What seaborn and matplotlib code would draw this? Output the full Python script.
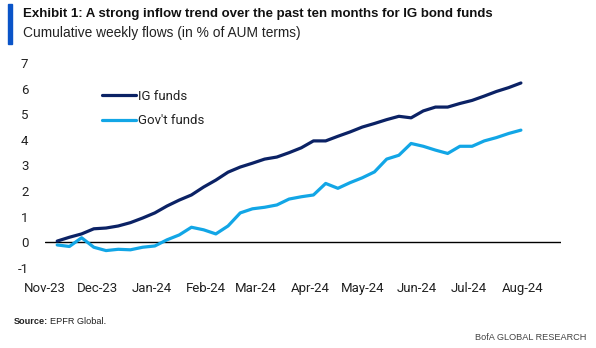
import matplotlib
matplotlib.use("Agg")
import matplotlib.pyplot as plt
import seaborn as sns
import pandas as pd
from matplotlib.lines import Line2D

sns.set_theme(style="white")
plt.rcParams['font.family'] = ['Roboto', 'DejaVu Sans']

dates = pd.date_range("2023-11-08", periods=39, freq="7D")
ig_funds = [0.05, 0.20, 0.33, 0.53, 0.56, 0.64, 0.77, 0.95, 1.15, 1.42,
            1.65, 1.85, 2.16, 2.43, 2.74, 2.94, 3.09, 3.25, 3.33, 3.50,
            3.69, 3.96, 3.96, 4.14, 4.31, 4.50, 4.64, 4.79, 4.92, 4.86,
            5.13, 5.28, 5.28, 5.42, 5.54, 5.71, 5.89, 6.04, 6.22]
govt_funds = [-0.10, -0.16, 0.18, -0.19, -0.32, -0.27, -0.29, -0.19, -0.14, 0.10,
              0.29, 0.59, 0.49, 0.33, 0.64, 1.15, 1.31, 1.37, 1.46, 1.69,
              1.78, 1.85, 2.30, 2.11, 2.33, 2.52, 2.75, 3.25, 3.40, 3.86,
              3.75, 3.60, 3.47, 3.75, 3.75, 3.96, 4.09, 4.25, 4.38]
series_names = ["IG funds", "Gov't funds"]
colors = ["#0B2265", "#12A6E6"]
tick_months = pd.date_range("2023-11-01", "2024-08-01", freq="MS")
y_ticks = [-1, 0, 1, 2, 3, 4, 5, 6, 7]

df = pd.DataFrame({
    "date": list(dates) * 2,
    "value": ig_funds + govt_funds,
    "series": [series_names[0]] * len(dates) + [series_names[1]] * len(dates),
})

fig = plt.figure(figsize=(5.96, 3.48), dpi=100)
ax = fig.add_axes([45 / 596, 1 - 268 / 348, (561 - 45) / 596, (268 - 63) / 348])

sns.lineplot(data=df, x="date", y="value", hue="series", palette=colors,
             linewidth=2.3, ax=ax, legend=False)

ax.axhline(0, color="black", linewidth=1.0, zorder=1)
ax.set_xlim(pd.Timestamp("2023-11-01"), pd.Timestamp("2024-08-23"))
ax.set_ylim(-1, 7)
ax.set_yticks(y_ticks)
ax.set_yticklabels([str(v) for v in y_ticks])
ax.set_xticks(tick_months)
ax.set_xticklabels([d.strftime("%b-%y") for d in tick_months])
ax.tick_params(axis="both", length=0, labelsize=9.5, colors="#222222")
ax.tick_params(axis="x", pad=10)
ax.tick_params(axis="y", pad=12)
ax.set_xlabel("")
ax.set_ylabel("")
for s in ax.spines.values():
    s.set_visible(False)
ax.grid(False)

handles = [Line2D([0], [0], color=c, linewidth=2.3) for c in colors]
leg = ax.legend(handles, series_names, loc="upper left",
                bbox_to_anchor=((102 - 45) / 516, 1 - (90 - 63) / 205),
                frameon=False, handlelength=2.6, handletextpad=0.1,
                labelspacing=0.85, fontsize=9.5, borderaxespad=0, borderpad=0)
for t in leg.get_texts():
    t.set_color("#222222")

# title block
fig.patches.append(plt.Rectangle((8 / 596, 1 - 44 / 348), 4 / 596, 40 / 348,
                                 transform=fig.transFigure, color="#0A54C8"))
fig.text(23 / 596, 1 - 14 / 348, "Exhibit 1: A strong inflow trend over the past ten months for IG bond funds",
         fontsize=9.5, fontweight="bold", va="center", ha="left",
         family=['Liberation Sans', 'DejaVu Sans'], color="#111111")
fig.text(23 / 596, 1 - 33 / 348, "Cumulative weekly flows (in % of AUM terms)",
         fontsize=9.9, va="center", ha="left",
         family=['Liberation Sans', 'DejaVu Sans'], color="#222222")

src1 = fig.text(14 / 596, 1 - 322 / 348, "Source:", fontsize=6.6, fontweight="bold",
                va="center", ha="left", family=['Liberation Sans', 'DejaVu Sans'], color="#222222")
fig.canvas.draw()
bb = src1.get_window_extent(renderer=fig.canvas.get_renderer())
x_next = (bb.x1 + 1.5) / fig.bbox.width
fig.text(x_next, 1 - 322 / 348, "EPFR Global.", fontsize=6.6,
         va="center", ha="left", family=['Liberation Sans', 'DejaVu Sans'], color="#222222")
fig.text(586 / 596, 1 - 337 / 348, "BofA GLOBAL RESEARCH", fontsize=6.6,
         va="center", ha="right", family=['Liberation Sans', 'DejaVu Sans'], color="#444444")

fig.savefig("out.png", dpi=100)
